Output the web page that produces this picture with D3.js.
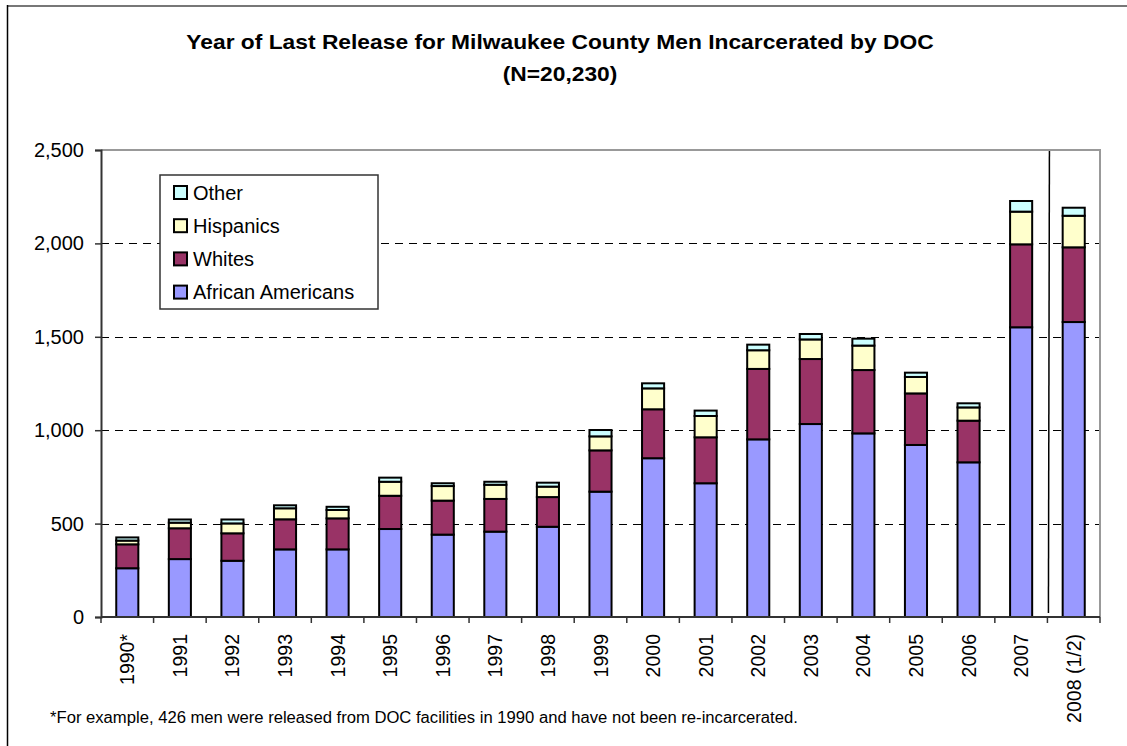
<!DOCTYPE html>
<html>
<head>
<meta charset="utf-8">
<script src="https://cdn.jsdelivr.net/npm/d3@7"></script>
<style>
  body { margin: 0; background: #fff; }
  text { font-family: "Liberation Sans", Arial, sans-serif; }
</style>
</head>
<body>
<div id="chart"></div>
<script>
var years = ["1990*", "1991", "1992", "1993", "1994", "1995", "1996", "1997", "1998", "1999",
             "2000", "2001", "2002", "2003", "2004", "2005", "2006", "2007", "2008 (1/2)"];

var africanAmericans = [261, 310, 301, 362, 362, 471, 441, 457, 483, 671, 850, 716, 951, 1033, 983, 921, 828, 1551, 1579];
var whites           = [128, 165, 147, 161, 166, 178, 182, 175, 159, 221, 262, 246, 377, 348, 339, 276, 223, 444, 400];
var hispanics        = [ 20,  30,  53,  59,  45,  75,  78,  76,  56,  75, 112, 114, 100, 105, 131,  88,  71, 175, 169];
var other            = [ 17,  17,  21,  16,  17,  22,  15,  16,  21,  34,  27,  29,  30,  29,  37,  23,  22,  57,  43];

var yTicks = [0, 500, 1000, 1500, 2000, 2500];

var seriesNames = ["African Americans", "Whites", "Hispanics", "Other"];
var seriesColors = ["#9999ff", "#993366", "#ffffcc", "#ccffff"];

var width = 1127, height = 746;
var plot = { left: 101, right: 1100, top: 150, bottom: 617 };

// build rows for the stack
var rows = years.map(function(y, i) {
  return { year: y, "African Americans": africanAmericans[i], "Whites": whites[i],
           "Hispanics": hispanics[i], "Other": other[i] };
});

var stack = d3.stack().keys(seriesNames)(rows);

var x = d3.scaleBand()
          .domain(years)
          .range([plot.left, plot.right])
          .paddingInner(0.58)
          .paddingOuter(0.29);

var y = d3.scaleLinear()
          .domain([0, 2500])
          .range([plot.bottom, plot.top]);

var svg = d3.select("#chart").append("svg")
            .attr("width", width)
            .attr("height", height);

// outer frame (top and left edges only are visible)
svg.append("line")
  .attr("x1", 7).attr("x2", width).attr("y1", 6).attr("y2", 6)
  .attr("stroke", "#777").attr("stroke-width", 2);
svg.append("line")
  .attr("x1", 7.5).attr("x2", 7.5).attr("y1", 5).attr("y2", height)
  .attr("stroke", "#000").attr("stroke-width", 1.5);

// title
var title = svg.append("text")
  .attr("text-anchor", "middle")
  .style("font-weight", "bold")
  .style("font-size", "20px");
title.append("tspan").attr("x", 0).attr("y", 0).text("Year of Last Release for Milwaukee County Men Incarcerated by DOC");
title.append("tspan").attr("x", 0).attr("y", 32).text("(N=20,230)");
title.attr("transform", "translate(560,49) scale(1.14,1)");

// dashed gridlines
svg.append("g")
  .selectAll("line")
  .data(yTicks.filter(function(d) { return d > 0 && d < 2500; }))
  .enter().append("line")
  .attr("x1", plot.left).attr("x2", plot.right)
  .attr("y1", function(d) { return Math.round(y(d)) + 0.5; })
  .attr("y2", function(d) { return Math.round(y(d)) + 0.5; })
  .attr("stroke", "#000")
  .attr("stroke-dasharray", "8,6");

// plot border top/right
svg.append("path")
  .attr("d", "M" + plot.left + "," + plot.top + "H" + plot.right + "V" + plot.bottom)
  .attr("fill", "none")
  .attr("stroke", "#999")
  .attr("stroke-width", 2);

// bars
svg.append("g")
  .selectAll("g")
  .data(stack)
  .enter().append("g")
  .attr("fill", function(d, i) { return seriesColors[i]; })
  .selectAll("rect")
  .data(function(d) { return d; })
  .enter().append("rect")
  .attr("x", function(d) { return x(d.data.year); })
  .attr("y", function(d) { return y(d[1]); })
  .attr("width", x.bandwidth())
  .attr("height", function(d) { return y(d[0]) - y(d[1]); })
  .attr("stroke", "#000")
  .attr("stroke-width", 2);

// y axis
var yAxis = svg.append("g")
  .attr("transform", "translate(" + plot.left + ",0)")
  .call(d3.axisLeft(y).tickValues(yTicks).tickFormat(d3.format(",")).tickSize(6).tickPadding(11));
yAxis.select(".domain").attr("stroke", "#333").attr("stroke-width", 2);
yAxis.selectAll(".tick line").attr("stroke", "#333").attr("stroke-width", 1.5);
yAxis.selectAll("text")
  .style("font-size", "20px")
  .attr("fill", "#000");

// x axis: ticks at band boundaries
var step = x.step();
var boundaries = d3.range(years.length + 1).map(function(i) { return plot.left + i * step; });

svg.append("line")
  .attr("x1", plot.left).attr("x2", plot.right)
  .attr("y1", plot.bottom).attr("y2", plot.bottom)
  .attr("stroke", "#333").attr("stroke-width", 2);

svg.append("g")
  .selectAll("line")
  .data(boundaries)
  .enter().append("line")
  .attr("x1", function(d) { return d; }).attr("x2", function(d) { return d; })
  .attr("y1", plot.bottom).attr("y2", plot.bottom + 6)
  .attr("stroke", "#333").attr("stroke-width", 1.5);

svg.append("g")
  .selectAll("text")
  .data(years)
  .enter().append("text")
  .attr("text-anchor", "end")
  .attr("transform", function(d) {
    return "translate(" + (x(d) + x.bandwidth() / 2 + 7) + "," + (plot.bottom + 17) + ") rotate(-90)";
  })
  .style("font-size", "19.5px")
  .text(function(d) { return d; });

// separator between full years and the half year 2008
var sepX = x("2008 (1/2)") - step * 0.29;
svg.append("line")
  .attr("x1", sepX + 2).attr("x2", sepX + 1)
  .attr("y1", plot.top + 1).attr("y2", plot.bottom - 4)
  .attr("stroke", "#000").attr("stroke-width", 1.5);

// legend
var legend = svg.append("g").attr("transform", "translate(160,175)");
legend.append("rect")
  .attr("width", 218).attr("height", 134)
  .attr("fill", "#fff").attr("stroke", "#333").attr("stroke-width", 1.5);

var legendOrder = seriesNames.slice().reverse();
var item = legend.selectAll(".item")
  .data(legendOrder)
  .enter().append("g")
  .attr("transform", function(d, i) { return "translate(14," + (17.5 + i * 33.2) + ")"; });

item.append("rect")
  .attr("x", 0).attr("y", -6.5)
  .attr("width", 13).attr("height", 13)
  .attr("fill", function(d) { return seriesColors[seriesNames.indexOf(d)]; })
  .attr("stroke", "#000").attr("stroke-width", 2);

item.append("text")
  .attr("x", 19).attr("y", 7)
  .style("font-size", "20px")
  .text(function(d) { return d; });

// footnote
svg.append("text")
  .attr("transform", "translate(50,723) scale(1.04,1)")
  .style("font-size", "16px")
  .text("*For example, 426 men were released from DOC facilities in 1990 and have not been re-incarcerated.");
</script>
</body>
</html>
